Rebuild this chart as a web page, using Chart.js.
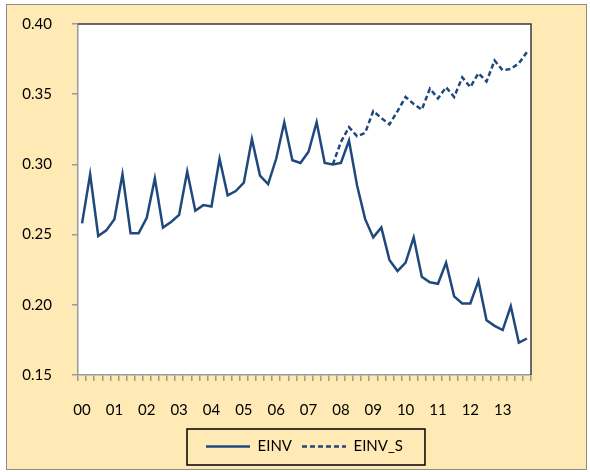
<!DOCTYPE html>
<html>
<head>
<meta charset="utf-8">
<script src="https://cdn.jsdelivr.net/npm/chart.js@4"></script>
<style>
  html, body { margin: 0; padding: 0; background: #fff; }
  #wrap {
    position: absolute; left: 6px; top: 4px;
    width: 579px; height: 464px;
    border: 1px solid #8c8c8c;
    background: #FFEAB5;
  }
  canvas { display: block; }
</style>
</head>
<body>
<div id="wrap"><canvas id="chart"></canvas></div>
<script>
// years on the axis, one label per year (quarterly data)
const years = ['00','01','02','03','04','05','06','07','08','09','10','11','12','13'];
const quarters = ['Q1','Q2','Q3','Q4'];

// EINV, quarterly 2000Q1 - 2013Q4
const einv = [
  0.258, 0.293, 0.249, 0.253,
  0.261, 0.293, 0.251, 0.251,
  0.262, 0.290, 0.255, 0.259,
  0.264, 0.295, 0.267, 0.271,
  0.270, 0.304, 0.278, 0.281,
  0.287, 0.318, 0.292, 0.286,
  0.304, 0.330, 0.303, 0.301,
  0.309, 0.330, 0.301, 0.300,
  0.301, 0.317, 0.285, 0.261,
  0.248, 0.255, 0.232, 0.224,
  0.230, 0.248, 0.220, 0.216,
  0.215, 0.230, 0.206, 0.201,
  0.201, 0.217, 0.189, 0.185,
  0.182, 0.199, 0.173, 0.176
];

// EINV_S starts at 2007Q4
const einvS = [
  null, null, null, null, null, null, null, null, null, null,
  null, null, null, null, null, null, null, null, null, null,
  null, null, null, null, null, null, null, null, null, null,
  null,
  0.300, 0.316, 0.3265, 0.320, 0.3225, 0.338, 0.333, 0.3285, 0.338,
  0.348, 0.343, 0.339, 0.354, 0.347, 0.355, 0.348, 0.362, 0.355,
  0.365, 0.359, 0.374, 0.367, 0.368, 0.372, 0.380
];

const categories = years.flatMap(y => quarters.map(q => y + q));

const lineColor = '#1F497D';
const fontFamily = 'Lato, "Open Sans", sans-serif';

// white plot area with its frame, and a box round the legend
const framePlugin = {
  id: 'frame',
  beforeDraw(chart) {
    const a = chart.chartArea;
    const ctx = chart.ctx;
    ctx.save();
    ctx.fillStyle = '#ffffff';
    ctx.fillRect(a.left, a.top, a.right - a.left, a.bottom - a.top);
    ctx.restore();
  },
  beforeDatasetsDraw(chart) {
    const a = chart.chartArea;
    const ctx = chart.ctx;
    ctx.save();
    ctx.strokeStyle = '#3a3a3a';
    ctx.lineWidth = 1.5;
    ctx.beginPath();
    ctx.moveTo(a.left, a.top);
    ctx.lineTo(a.right, a.top);
    ctx.lineTo(a.right, a.bottom);
    ctx.stroke();
    ctx.restore();
  },
  afterDraw(chart) {
    const boxes = chart.legend.legendHitBoxes;
    if (!boxes || !boxes.length) return;
    const left = Math.min(...boxes.map(b => b.left)) - 19;
    const right = Math.max(...boxes.map(b => b.left + b.width)) + 22;
    const top = Math.min(...boxes.map(b => b.top)) - 10;
    const bottom = Math.max(...boxes.map(b => b.top + b.height)) + 11;
    const ctx = chart.ctx;
    ctx.save();
    ctx.strokeStyle = '#000';
    ctx.lineWidth = 1.5;
    ctx.strokeRect(left, top, right - left, bottom - top);
    ctx.restore();
  }
};

new Chart(document.getElementById('chart'), {
  type: 'line',
  data: {
    labels: categories,
    datasets: [
      {
        label: 'EINV',
        data: einv,
        borderColor: lineColor,
        backgroundColor: lineColor,
        borderWidth: 2.5,
        pointRadius: 0,
        tension: 0
      },
      {
        label: 'EINV_S',
        data: einvS,
        borderColor: lineColor,
        backgroundColor: lineColor,
        borderWidth: 2.5,
        borderDash: [5, 3],
        pointRadius: 0,
        tension: 0
      }
    ]
  },
  options: {
    responsive: true,
    maintainAspectRatio: false,
    animation: false,
    layout: { padding: { left: 0, right: 55, top: 19, bottom: 5 } },
    plugins: {
      tooltip: { enabled: false },
      legend: {
        position: 'bottom',
        fullSize: false,
        labels: {
          usePointStyle: true,
          pointStyle: 'line',
          pointStyleWidth: 44,
          padding: 10,
          color: '#000',
          font: { family: fontFamily, size: 15 },
          // keep the dash and width of each line in its legend sample
          generateLabels(chart) {
            const items = Chart.defaults.plugins.legend.labels.generateLabels(chart);
            items.forEach(it => {
              const ds = chart.data.datasets[it.datasetIndex];
              it.lineDash = ds.borderDash || [];
              it.lineWidth = ds.borderWidth;
              it.strokeStyle = ds.borderColor;
            });
            return items;
          }
        }
      }
    },
    scales: {
      x: {
        offset: true,
        afterFit(scale) { scale.height = 54; },
        grid: {
          offset: true,
          drawOnChartArea: false,
          drawTicks: true,
          tickLength: 6,
          color: '#9a9a9a',
          lineWidth: 1.5
        },
        border: { color: '#9a9a9a', width: 1.5 },
        ticks: {
          autoSkip: false,
          maxRotation: 0,
          minRotation: 0,
          padding: 20,
          color: '#000',
          font: { family: fontFamily, size: 15 },
          callback: function(value, index) {
            return index % 4 === 0 ? years[index / 4] : '';
          }
        }
      },
      y: {
        min: 0.15,
        max: 0.40,
        afterFit(scale) {
          scale.width = 71;
          scale.paddingTop = 0;
          scale.paddingBottom = 0;
        },
        grid: {
          drawOnChartArea: false,
          drawTicks: true,
          tickLength: 6,
          color: '#9a9a9a',
          lineWidth: 1.5
        },
        border: { color: '#9a9a9a', width: 1.5 },
        ticks: {
          stepSize: 0.05,
          padding: 20,
          color: '#000',
          font: { family: fontFamily, size: 15 },
          callback: function(value) { return value.toFixed(2); }
        }
      }
    }
  },
  plugins: [framePlugin]
});
</script>
</body>
</html>
